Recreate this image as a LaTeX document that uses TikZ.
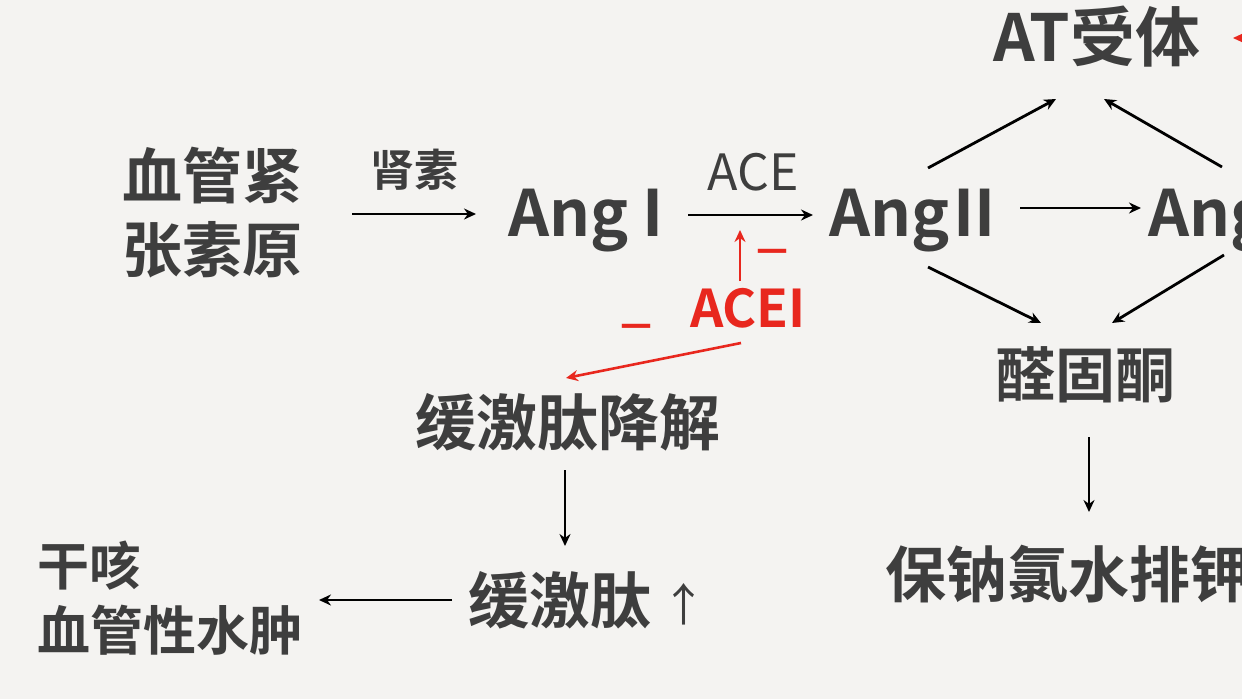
\documentclass[tikz,border=0pt]{standalone}
\usepackage{fontspec}
\setmainfont{Noto Sans CJK SC}[BoldFont={Noto Sans CJK SC Bold}]
\usetikzlibrary{arrows.meta}
\definecolor{bg}{HTML}{F4F3F1}
\definecolor{txt}{HTML}{3E3E3E}
\definecolor{redc}{HTML}{E8271E}
\tikzset{
  lbl/.style={inner sep=0pt, outer sep=0pt, text=txt, font=\bfseries},
  arr/.style={line width=2.8pt, black, -{Stealth[length=12pt,width=11pt]}},
  rarr/.style={line width=2.6pt, redc, -{Stealth[length=12pt,width=11pt]}},
}
\newcommand{\fs}[1]{\fontsize{#1}{#1}\selectfont}
\begin{document}
\begin{tikzpicture}[x=1pt,y=-1pt]
\fill[bg] (0,0) rectangle (1242,699);
\useasboundingbox (0,0) rectangle (1242,699);
\clip (0,0) rectangle (1242,699);

% nodes
\node[lbl, anchor=west, align=left, font=\bfseries\fontsize{60}{74}\selectfont] (ags) at (122,213) {血管紧\\张素原};
\node[lbl, anchor=west, font=\bfseries\fs{44}] (renin) at (370,170) {肾素};
\node[lbl, anchor=base west, font=\bfseries\fs{64}] (ang1) at (508,236) {Ang I};
\node[lbl, anchor=center, font=\fs{50}] (ace) at (753,172) {ACE};
\node[lbl, anchor=base west, font=\bfseries\fs{64}] (ang2) at (829,236) {\spaceskip=0.06em Ang II};
\node[lbl, anchor=base west, font=\bfseries\fs{64}] (ang3) at (1148,236) {\spaceskip=0.06em Ang III};
\node[lbl, anchor=west, font=\bfseries\fs{65}] (at) at (993,37) {AT受体};
\node[lbl, anchor=center, font=\bfseries\fs{60}] (ald) at (1085,375) {醛固酮};
\node[lbl, anchor=west, font=\bfseries\fs{61}] (na) at (885,574) {保钠氯水排钾};
\node[lbl, anchor=base west, text=redc, font=\bfseries\fs{52}] (acei) at (690,327) {ACEI};
\node[lbl, anchor=center, text=redc, font=\bfseries\fs{40}] (m1) at (772,258) {－};
\node[lbl, anchor=center, text=redc, font=\bfseries\fs{40}] (m2) at (636,333) {－};
\node[lbl, anchor=center, font=\bfseries\fs{61}] (bkd) at (568,422) {缓激肽降解};
\node[lbl, anchor=west, font=\bfseries\fs{61}] (bk) at (468,600) {缓激肽};
\node[lbl, anchor=center, font=\fs{45}] (up) at (684,604) {↑};
\node[lbl, anchor=west, font=\bfseries\fs{52}] (cough) at (37,566) {干咳};
\node[lbl, anchor=west, font=\bfseries\fs{53}] (edema) at (37,630) {血管性水肿};

% connector endpoints
\coordinate (a1s) at (352,214); \coordinate (a1e) at (476,214);
\coordinate (a2s) at (688,215); \coordinate (a2e) at (813,215);
\coordinate (a3s) at (1020,208); \coordinate (a3e) at (1141,208);
\coordinate (a4s) at (928,168); \coordinate (a4e) at (1056,99);
\coordinate (a5s) at (1222,167); \coordinate (a5e) at (1104,99);
\coordinate (a6s) at (928,267); \coordinate (a6e) at (1041,323);
\coordinate (a7s) at (1224,255); \coordinate (a7e) at (1112,323);
\coordinate (a8s) at (1089,437); \coordinate (a8e) at (1089,512);
\coordinate (a9s) at (565,470); \coordinate (a9e) at (565,546);
\coordinate (a10s) at (452,600); \coordinate (a10e) at (319,600);
\coordinate (r1s) at (740,281); \coordinate (r1e) at (740,230);
\coordinate (r2s) at (741,343); \coordinate (r2e) at (566,378);
\coordinate (r3s) at (1262,38); \coordinate (r3e) at (1233,38);

\draw[arr] (a1s) -- (a1e);
\draw[arr] (a2s) -- (a2e);
\draw[arr] (a3s) -- (a3e);
\draw[arr] (a4s) -- (a4e);
\draw[arr] (a5s) -- (a5e);
\draw[arr] (a6s) -- (a6e);
\draw[arr] (a7s) -- (a7e);
\draw[arr] (a8s) -- (a8e);
\draw[arr] (a9s) -- (a9e);
\draw[arr] (a10s) -- (a10e);
\draw[rarr] (r1s) -- (r1e);
\draw[rarr] (r2s) -- (r2e);
\draw[rarr] (r3s) -- (r3e);
\end{tikzpicture}
\end{document}
